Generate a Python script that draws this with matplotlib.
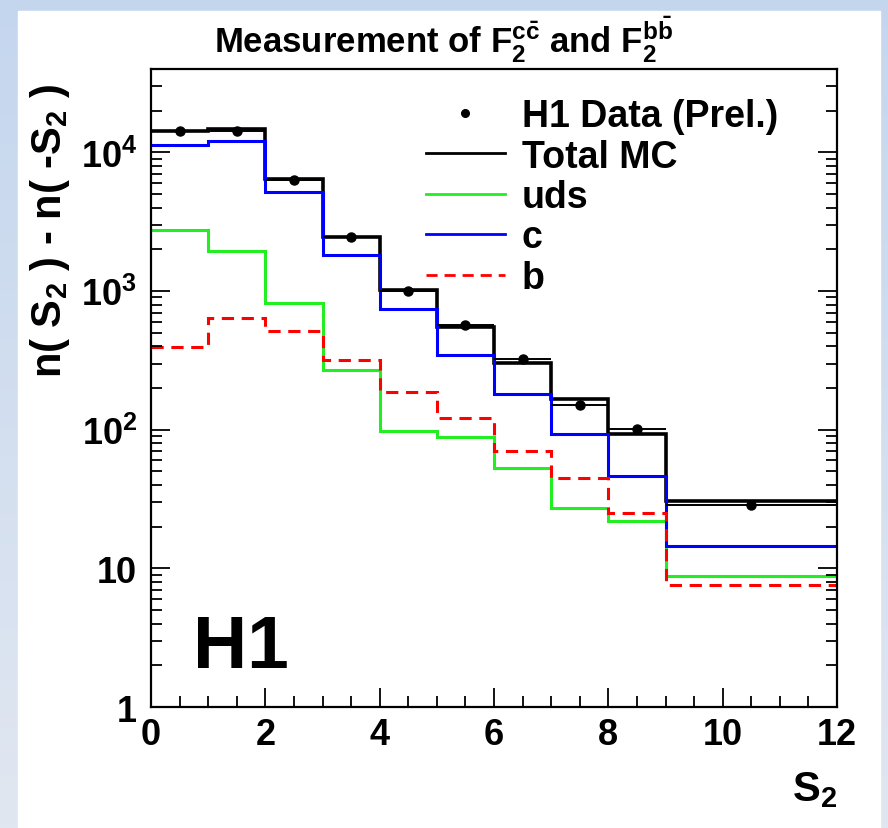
import numpy as np
import matplotlib
matplotlib.use("Agg")
import matplotlib.pyplot as plt
from matplotlib.lines import Line2D
from matplotlib.patches import Rectangle
from matplotlib.ticker import FixedLocator, LogLocator, MultipleLocator, NullFormatter

# histogram bins in S2 and the contents
edges = [0, 1, 2, 3, 4, 5, 6, 7, 8, 9, 12]
total_mc = [14230, 14650, 6390, 2450, 1024, 555, 305, 166, 93, 30.7]
charm = [11370, 12140, 5150, 1830, 747, 345, 182, 93, 46, 14.5]
uds = [2740, 1940, 820, 268, 98, 88, 53.4, 27.2, 21.8, 8.75]
beauty = [398, 640, 515, 321, 188, 122, 70.4, 44.7, 25.1, 7.6]

data_x = [0.5, 1.5, 2.5, 3.5, 4.5, 5.5, 6.5, 7.5, 8.5, 10.5]
data_y = [14200, 14400, 6290, 2460, 1003, 573, 326, 150, 101, 28.5]
data_xerr = [0.5, 0.5, 0.5, 0.5, 0.5, 0.5, 0.5, 0.5, 0.5, 1.5]

ytick_vals = [1, 10, 100, 1000, 10000]
ytick_labels = ["1", "10", r"$10^{2}$", r"$10^{3}$", r"$10^{4}$"]

plt.rcParams["font.family"] = ["Liberation Sans", "DejaVu Sans"]
plt.rcParams["font.weight"] = "bold"
plt.rcParams["mathtext.fontset"] = "custom"
plt.rcParams["mathtext.rm"] = "Liberation Sans:bold"
plt.rcParams["mathtext.it"] = "Liberation Sans:bold"
plt.rcParams["mathtext.bf"] = "Liberation Sans:bold"

W, H = 888, 829
fig = plt.figure(figsize=(W / 100, H / 100), dpi=100)

# light blue slide background with white panel
bg = fig.add_axes([0, 0, 1, 1], zorder=-10)
grad = np.linspace(0, 1, 256).reshape(-1, 1)
bg.imshow(grad, aspect="auto", extent=[0, 1, 0, 1],
          cmap=matplotlib.colors.LinearSegmentedColormap.from_list("bgc", ["#c4d6ee", "#e1e7f1"]))
bg.add_patch(Rectangle((18 / W, 0), (880 - 18) / W, 1 - 12 / H, color="white", transform=bg.transAxes))
bg.set_xlim(0, 1)
bg.set_ylim(0, 1)
bg.axis("off")

ax = fig.add_axes([151 / W, 1 - 708 / H, (837 - 151) / W, (708 - 70) / H])
ax.set_yscale("log")

ax.stairs(total_mc, edges, baseline=None, color="black", lw=2.6)
ax.stairs(uds, edges, baseline=None, color="#22ee22", lw=2.2)
ax.stairs(charm, edges, baseline=None, color="#0000ff", lw=2.2)
ax.stairs(beauty, edges, baseline=None, color="#ff0000", lw=2.2, linestyle=(0, (4, 2.5)))
ax.errorbar(data_x, data_y, xerr=data_xerr, fmt="o", color="black", ms=6.5,
            elinewidth=1.4, capsize=0, zorder=5)

ax.set_xlim(0, 12)
ax.set_ylim(1, 4e4)

ax.xaxis.set_major_locator(MultipleLocator(2))
ax.xaxis.set_minor_locator(MultipleLocator(0.5))
ax.yaxis.set_major_locator(FixedLocator(ytick_vals))
ax.set_yticklabels(ytick_labels)
ax.yaxis.set_minor_locator(LogLocator(base=10, subs=np.arange(2, 10)))
ax.yaxis.set_minor_formatter(NullFormatter())

ax.tick_params(axis="both", which="both", direction="in", width=1.3, colors="black")
ax.tick_params(axis="y", which="both", right=True)
ax.tick_params(axis="both", which="major", length=14, labelsize=26)
ax.tick_params(axis="both", which="minor", length=8)
ax.tick_params(axis="x", which="major", pad=7)
ax.tick_params(axis="y", which="major", pad=10)
for sp in ax.spines.values():
    sp.set_linewidth(1.6)

handles = [
    Line2D([], [], marker="o", ls="none", color="black", ms=5.5),
    Line2D([], [], color="black", lw=2),
    Line2D([], [], color="#22ee22", lw=2),
    Line2D([], [], color="#0000ff", lw=2),
    Line2D([], [], color="#ff0000", lw=2, ls=(0, (4, 2.5))),
]
labels = ["H1 Data (Prel.)", "Total MC", "uds", "c", "b"]
ax.legend(handles, labels, loc="upper left", bbox_to_anchor=(426 / W, 1 - 99 / H),
          bbox_transform=fig.transFigure, frameon=False, fontsize=27,
          handlelength=2.1, handletextpad=0.45, labelspacing=0.12,
          borderpad=0, borderaxespad=0)

fig.text(444 / W, 1 - 40 / H, r"Measurement of F$_{2}^{c\bar{c}}$ and F$_{2}^{b\bar{b}}$",
         ha="center", va="center", fontsize=25)
fig.text(50 / W, 1 - 84 / H, r"n( S$_{2}$ ) - n( -S$_{2}$ )", rotation=90,
         ha="center", va="top", fontsize=30)
fig.text(837 / W, 1 - 790 / H, r"S$_{2}$", ha="right", va="center", fontsize=30)
fig.text(193 / W, 1 - 668 / H, "H1", ha="left", va="baseline", fontsize=54)

fig.savefig("out.png", dpi=100)
